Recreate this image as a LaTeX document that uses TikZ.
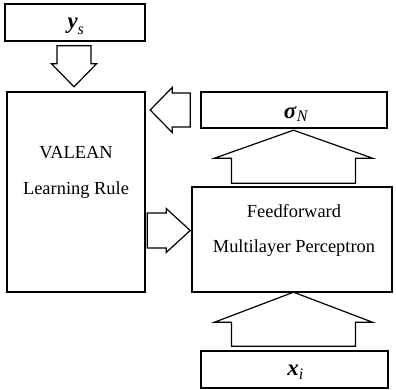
\documentclass[tikz,border=0pt]{standalone}
\usepackage{amsmath}
\usepackage{fontspec}
\setmainfont{Liberation Serif}
\usepackage{tikz}
\usetikzlibrary{calc}
% hollow block arrow: tail point, angle, length, shaft half width, head half width, head length
\newcommand{\blockarrow}[6]{%
  \draw[barrow,shift={#1},rotate=#2] (0,-#4) -- ({#3-#6},-#4) -- ({#3-#6},-#5) -- (#3,0)
    -- ({#3-#6},#5) -- ({#3-#6},#4) -- (0,#4) -- cycle;}

\begin{document}
\begin{tikzpicture}[
      x=1bp,y=1bp,
      font=\fontsize{18.5}{36}\selectfont,
      box/.style={draw,line width=1.6bp,inner sep=0pt,align=center},
      barrow/.style={draw,line width=1.2bp,line join=miter,fill=white},
      lbl/.style={align=center,inner sep=0pt},
      sym/.style={inner sep=0pt,font=\fontsize{23}{26}\selectfont}
    ]
    \useasboundingbox (0,0) rectangle (396,390);
    \node[box,minimum width=140bp,minimum height=37bp] (ys) at (75,367.5) {};
    \node[box,minimum width=138bp,minimum height=200bp] (valean) at (76,198) {};
    \node[box,minimum width=186bp,minimum height=36bp] (sigma) at (294,280) {};
    \node[box,minimum width=200bp,minimum height=105bp] (mlp) at (292,150.5) {};
    \node[box,minimum width=187bp,minimum height=37bp] (xi) at (294.5,20.5) {};
    \node[sym] (ystxt) at ($(ys.center)+(1,-4)$) {$\textbf{\textit{y}}_{\textit{s}}$};
    \node[sym] (sigmatxt) at ($(sigma.center)+(2,-4)$) {$\textbf{\textit{σ}}_{\textit{N}}$};
    \node[sym] (xitxt) at ($(xi.center)+(1,-3)$) {$\textbf{\textit{x}}_{\textit{i}}$};
    \node[lbl] (valeantxt) at ($(valean.center)+(0,20)$) {VALEAN\\Learning Rule};
    \node[lbl] (mlptxt) at ($(mlp.center)+(2,9)$) {Feedforward\\Multilayer Perceptron};
    \blockarrow{($(ys.south)+(-1,-4)$)}{-90}{41}{17}{22.5}{23}
    \blockarrow{($(sigma.west)+(-10,0)$)}{180}{40}{17}{22.5}{22}
    \blockarrow{($(mlp.west)+(-44,9)$)}{0}{43}{17.5}{22}{24}
    \blockarrow{($(mlp.north)+(1.5,3)$)}{90}{53}{62}{79}{28}
    \blockarrow{($(xi.north)+(-1,4)$)}{90}{54}{62}{79}{30}
  \end{tikzpicture}
\end{document}
